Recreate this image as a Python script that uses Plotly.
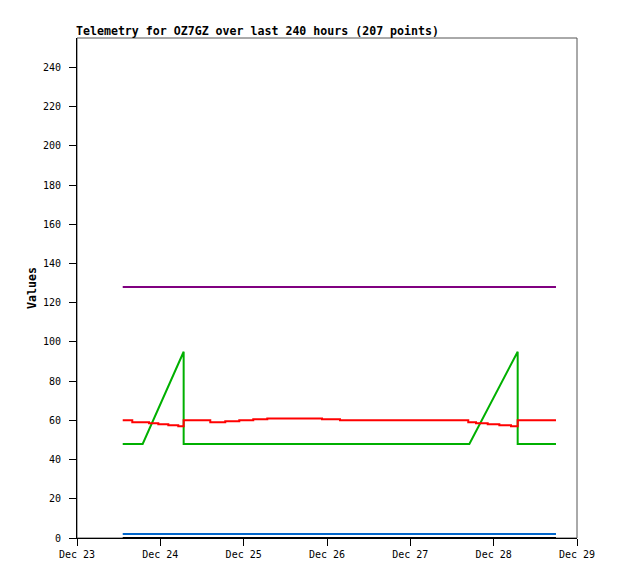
import plotly.graph_objects as go

# telemetry channels, breakpoints
red_time = [
    "2024-12-23 13:10", "2024-12-23 15:55", "2024-12-23 20:45", "2024-12-23 23:25",
    "2024-12-24 02:18", "2024-12-24 05:10", "2024-12-24 06:43", "2024-12-24 14:23",
    "2024-12-24 18:42", "2024-12-24 22:44", "2024-12-25 02:46", "2024-12-25 06:48",
    "2024-12-25 22:34", "2024-12-26 03:45", "2024-12-27 16:41", "2024-12-27 18:55",
    "2024-12-27 22:17", "2024-12-28 01:38", "2024-12-28 05:00", "2024-12-28 06:55",
    "2024-12-28 17:57",
]
red_vals = [60, 59, 58.5, 58, 57.5, 57, 60, 59, 59.5, 60, 60.5, 61, 60.5, 60,
            59, 58.5, 58, 57.5, 57, 60, 60]

green_time = [
    "2024-12-23 13:10", "2024-12-23 18:55", "2024-12-24 06:43", "2024-12-24 06:43",
    "2024-12-27 17:00", "2024-12-28 06:55", "2024-12-28 06:55", "2024-12-28 17:57",
]
green_vals = [48, 48, 95, 48, 48, 95, 48, 48]

flat_time = ["2024-12-23 13:10", "2024-12-28 17:57"]
purple_vals = [128, 128]
blue_vals = [2, 2]
black_vals = [0, 0]

tick_dates = ["2024-12-23", "2024-12-24", "2024-12-25", "2024-12-26",
              "2024-12-27", "2024-12-28", "2024-12-29"]
tick_text = ["Dec 23", "Dec 24", "Dec 25", "Dec 26", "Dec 27", "Dec 28", "Dec 29"]

mono = "DejaVu Sans Mono"

fig = go.Figure()
fig.add_trace(go.Scatter(x=flat_time, y=black_vals, mode="lines",
                         line=dict(color="#000000", width=2)))
fig.add_trace(go.Scatter(x=flat_time, y=blue_vals, mode="lines",
                         line=dict(color="#0066cc", width=2)))
fig.add_trace(go.Scatter(x=flat_time, y=purple_vals, mode="lines",
                         line=dict(color="#800080", width=2)))
fig.add_trace(go.Scatter(x=green_time, y=green_vals, mode="lines",
                         line=dict(color="#00b000", width=2)))
fig.add_trace(go.Scatter(x=red_time, y=red_vals, mode="lines",
                         line=dict(color="#ff0000", width=2, shape="hv")))

fig.add_shape(type="rect", xref="paper", yref="paper", x0=0, y0=0, x1=1, y1=1,
              line=dict(color="#555555", width=1), layer="below")

fig.add_annotation(text="<b>Telemetry for OZ7GZ over last 240 hours (207 points)</b>",
                   xref="paper", yref="paper", x=0, y=1, xanchor="left",
                   yanchor="bottom", showarrow=False, xshift=-3, yshift=-2,
                   font=dict(family=mono, size=11.6, color="#000000"))
fig.add_annotation(text="<b>Values</b>", xref="paper", yref="paper",
                   x=0, y=0.5, xanchor="center", yanchor="middle", xshift=-45,
                   textangle=-90, showarrow=False,
                   font=dict(family=mono, size=11.6, color="#000000"))

# page body has an 8px margin, so the figure is a little smaller than the window
fig.update_layout(
    width=610, height=571,
    margin=dict(l=69, r=41, t=30, b=41),
    plot_bgcolor="white", paper_bgcolor="white",
    showlegend=False,
    font=dict(family=mono, size=10, color="#000000"),
)
fig.update_xaxes(
    range=["2024-12-23", "2024-12-29"], tickvals=tick_dates, ticktext=tick_text,
    showgrid=False, zeroline=False, showline=True, linecolor="#000000",
    ticks="outside", ticklen=7, tickcolor="#000000",
)
fig.update_yaxes(
    range=[0, 255], tickvals=list(range(0, 241, 20)),
    showgrid=False, zeroline=False, showline=True, linecolor="#000000",
    ticks="outside", ticklen=7, tickcolor="#000000", ticklabelstandoff=6,
)

fig.write_html("out.html")
